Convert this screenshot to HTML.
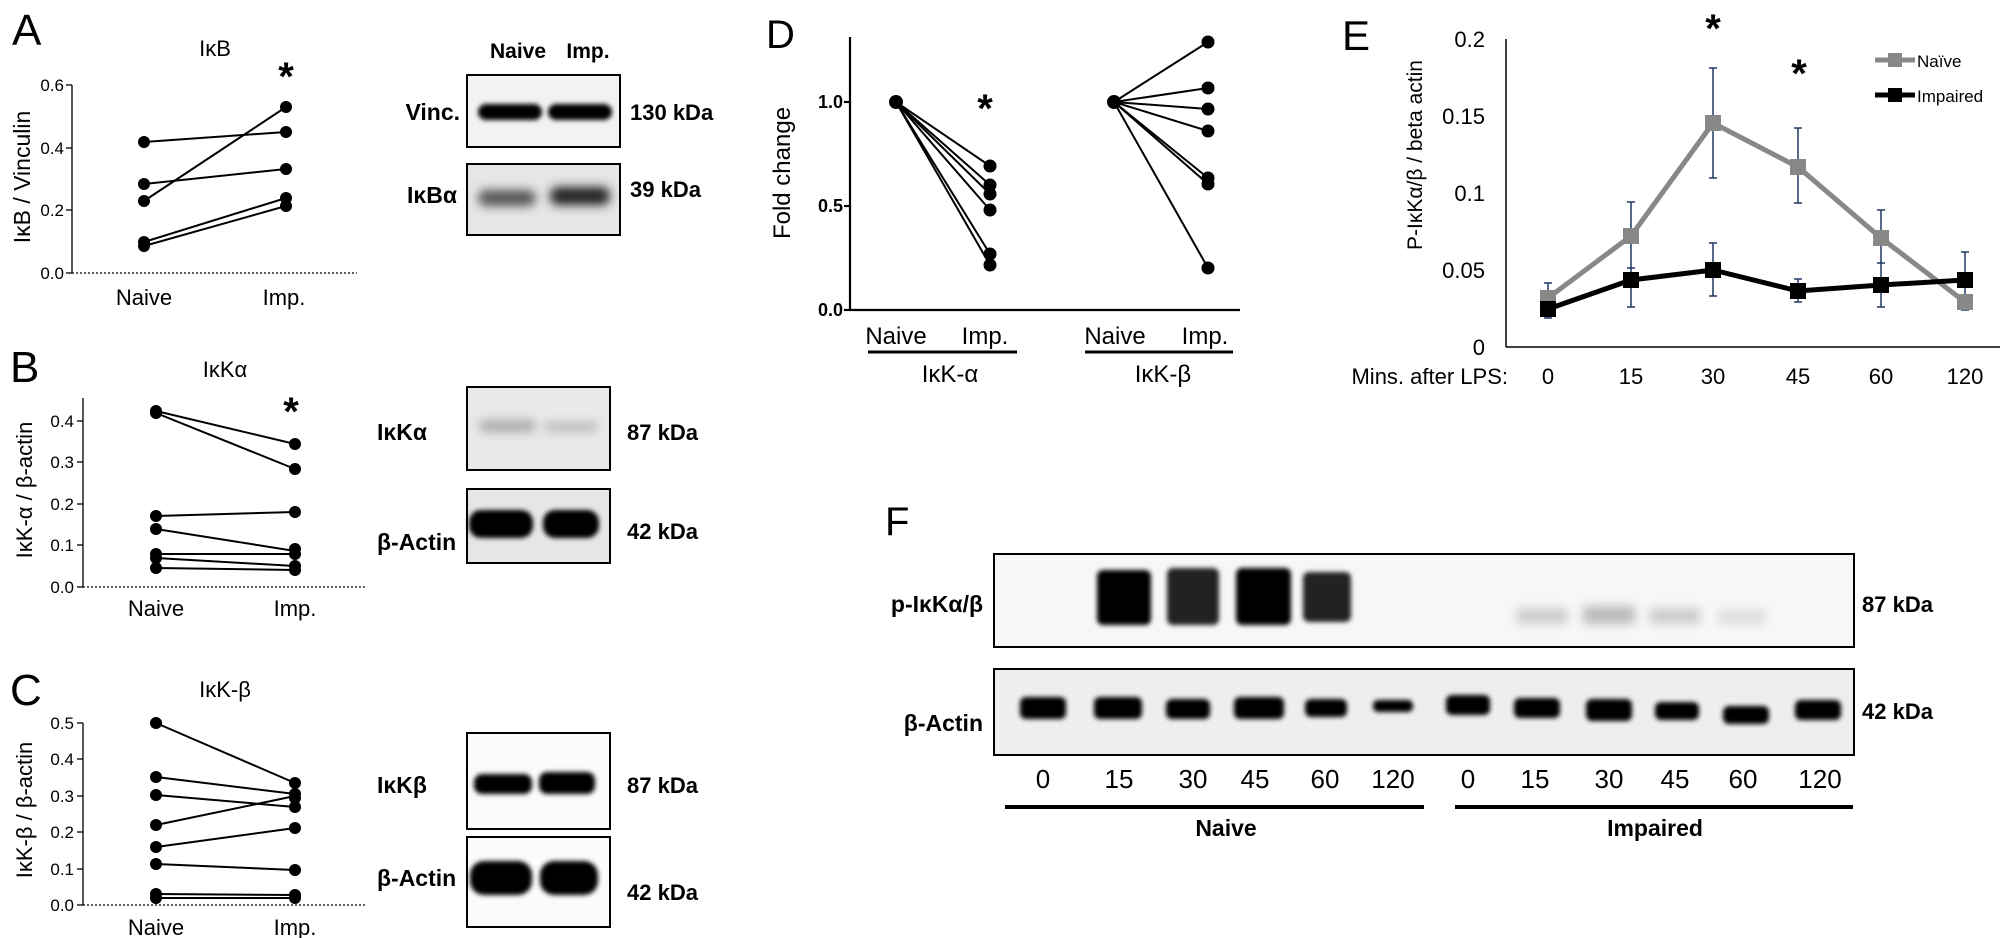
<!DOCTYPE html>
<html><head><meta charset="utf-8"><style>
html,body{margin:0;padding:0;background:#fff;}
svg{display:block;font-family:"Liberation Sans",sans-serif;}
</style></head><body>
<svg width="2006" height="938" viewBox="0 0 2006 938" xmlns="http://www.w3.org/2000/svg">
<defs>
<filter id="b2" x="-20%" y="-50%" width="140%" height="200%"><feGaussianBlur stdDeviation="2.5"/></filter>
<filter id="b4" x="-20%" y="-80%" width="140%" height="260%"><feGaussianBlur stdDeviation="5"/></filter>
</defs>
<rect width="2006" height="938" fill="#fff"/>

<!-- ============ A ============ -->
<text x="12" y="45" font-size="44">A</text>
<text x="215" y="56" font-size="22" text-anchor="middle">IκB</text>
<g stroke="#000" stroke-width="1.3" fill="none">
<line x1="72" y1="85" x2="72" y2="273"/>
<line x1="66" y1="85" x2="72" y2="85"/><line x1="66" y1="148" x2="72" y2="148"/><line x1="66" y1="210" x2="72" y2="210"/><line x1="66" y1="273" x2="72" y2="273"/>
<line x1="72" y1="273" x2="357" y2="273" stroke-dasharray="2,2"/>
</g>
<g font-size="17" text-anchor="end"><text x="64" y="91">0.6</text><text x="64" y="154">0.4</text><text x="64" y="216">0.2</text><text x="64" y="279">0.0</text></g>
<text transform="translate(30,177) rotate(-90)" font-size="23" text-anchor="middle">IκB / Vinculin</text>
<g stroke="#000" stroke-width="2">
<line x1="144" y1="142" x2="286" y2="132"/><line x1="144" y1="184" x2="286" y2="169"/><line x1="144" y1="201" x2="286" y2="107"/><line x1="144" y1="242" x2="286" y2="198"/><line x1="144" y1="246" x2="286" y2="206"/>
</g>
<g fill="#000"><circle cx="144" cy="142" r="6"/><circle cx="144" cy="184" r="6"/><circle cx="144" cy="201" r="6"/><circle cx="144" cy="242" r="6"/><circle cx="144" cy="246" r="6"/>
<circle cx="286" cy="107" r="6"/><circle cx="286" cy="132" r="6"/><circle cx="286" cy="169" r="6"/><circle cx="286" cy="198" r="6"/><circle cx="286" cy="206" r="6"/></g>
<text x="286" y="90" font-size="40" text-anchor="middle" font-weight="bold">*</text>
<text x="144" y="305" font-size="22" text-anchor="middle">Naive</text>
<text x="284" y="305" font-size="22" text-anchor="middle">Imp.</text>
<!-- blot A -->
<text x="518" y="58" font-size="21" font-weight="bold" text-anchor="middle">Naive</text>
<text x="588" y="58" font-size="21" font-weight="bold" text-anchor="middle">Imp.</text>
<rect x="467" y="75" width="153" height="72" fill="#f2f2f2" stroke="#000" stroke-width="2"/>
<rect x="467" y="164" width="153" height="71" fill="#e6e6e6" stroke="#000" stroke-width="2"/>
<g filter="url(#b2)" fill="#000"><rect x="478" y="104" width="64" height="16" rx="8"/><rect x="548" y="104" width="64" height="16" rx="8"/></g>
<g filter="url(#b4)"><rect x="478" y="190" width="58" height="16" rx="8" fill="#555"/><rect x="550" y="187" width="60" height="18" rx="8" fill="#222"/></g>
<text x="460" y="120" font-size="23" font-weight="bold" text-anchor="end">Vinc.</text>
<text x="457" y="203" font-size="23" font-weight="bold" text-anchor="end">IκBα</text>
<text x="630" y="120" font-size="22" font-weight="bold">130 kDa</text>
<text x="630" y="197" font-size="22" font-weight="bold">39 kDa</text>

<!-- ============ B ============ -->
<text x="10" y="382" font-size="44">B</text>
<text x="225" y="377" font-size="22" text-anchor="middle">IκKα</text>
<g stroke="#000" stroke-width="1.3" fill="none">
<line x1="83" y1="398" x2="83" y2="587"/>
<line x1="77" y1="421" x2="83" y2="421"/><line x1="77" y1="462" x2="83" y2="462"/><line x1="77" y1="504" x2="83" y2="504"/><line x1="77" y1="545" x2="83" y2="545"/><line x1="77" y1="587" x2="83" y2="587"/>
<line x1="83" y1="587" x2="365" y2="587" stroke-dasharray="2,2"/>
</g>
<g font-size="17" text-anchor="end"><text x="74" y="427">0.4</text><text x="74" y="468">0.3</text><text x="74" y="510">0.2</text><text x="74" y="551">0.1</text><text x="74" y="593">0.0</text></g>
<text transform="translate(32,490) rotate(-90)" font-size="22" text-anchor="middle">IκK-α / β-actin</text>
<g stroke="#000" stroke-width="2">
<line x1="156" y1="411" x2="295" y2="444"/><line x1="156" y1="413" x2="295" y2="469"/><line x1="156" y1="516" x2="295" y2="512"/><line x1="156" y1="529" x2="295" y2="551"/><line x1="156" y1="554" x2="295" y2="554"/><line x1="156" y1="558" x2="295" y2="566"/><line x1="156" y1="568" x2="295" y2="570"/>
</g>
<g fill="#000">
<circle cx="156" cy="411" r="6"/><circle cx="156" cy="413" r="6"/><circle cx="156" cy="516" r="6"/><circle cx="156" cy="529" r="6"/><circle cx="156" cy="554" r="6"/><circle cx="156" cy="558" r="6"/><circle cx="156" cy="568" r="6"/>
<circle cx="295" cy="444" r="6"/><circle cx="295" cy="469" r="6"/><circle cx="295" cy="512" r="6"/><circle cx="295" cy="549" r="6"/><circle cx="295" cy="554" r="6"/><circle cx="295" cy="566" r="6"/><circle cx="295" cy="570" r="6"/></g>
<text x="291" y="425" font-size="40" text-anchor="middle" font-weight="bold">*</text>
<text x="156" y="616" font-size="22" text-anchor="middle">Naive</text>
<text x="295" y="616" font-size="22" text-anchor="middle">Imp.</text>
<!-- blot B -->
<rect x="467" y="387" width="143" height="83" fill="#e9e9e9" stroke="#000" stroke-width="2"/>
<rect x="467" y="489" width="143" height="74" fill="#e6e6e6" stroke="#000" stroke-width="2"/>
<g filter="url(#b4)"><rect x="480" y="420" width="55" height="12" fill="#aaa"/><rect x="545" y="422" width="52" height="10" fill="#bbb"/></g>
<g filter="url(#b2)" fill="#000"><rect x="469" y="510" width="64" height="28" rx="12"/><rect x="543" y="510" width="56" height="28" rx="12"/></g>
<text x="377" y="440" font-size="23" font-weight="bold">IκKα</text>
<text x="377" y="550" font-size="23" font-weight="bold">β-Actin</text>
<text x="627" y="440" font-size="22" font-weight="bold">87 kDa</text>
<text x="627" y="539" font-size="22" font-weight="bold">42 kDa</text>

<!-- ============ C ============ -->
<text x="10" y="705" font-size="44">C</text>
<text x="225" y="697" font-size="22" text-anchor="middle">IκK-β</text>
<g stroke="#000" stroke-width="1.3" fill="none">
<line x1="83" y1="723" x2="83" y2="905"/>
<line x1="77" y1="723" x2="83" y2="723"/><line x1="77" y1="759" x2="83" y2="759"/><line x1="77" y1="796" x2="83" y2="796"/><line x1="77" y1="832" x2="83" y2="832"/><line x1="77" y1="869" x2="83" y2="869"/><line x1="77" y1="905" x2="83" y2="905"/>
<line x1="83" y1="905" x2="365" y2="905" stroke-dasharray="2,2"/>
</g>
<g font-size="17" text-anchor="end"><text x="74" y="729">0.5</text><text x="74" y="765">0.4</text><text x="74" y="802">0.3</text><text x="74" y="838">0.2</text><text x="74" y="875">0.1</text><text x="74" y="911">0.0</text></g>
<text transform="translate(32,810) rotate(-90)" font-size="22" text-anchor="middle">IκK-β / β-actin</text>
<g stroke="#000" stroke-width="2">
<line x1="156" y1="723" x2="295" y2="783"/><line x1="156" y1="777" x2="295" y2="794"/><line x1="156" y1="795" x2="295" y2="807"/><line x1="156" y1="825" x2="295" y2="796"/><line x1="156" y1="847" x2="295" y2="828"/><line x1="156" y1="864" x2="295" y2="870"/><line x1="156" y1="894" x2="295" y2="895"/><line x1="156" y1="898" x2="295" y2="898"/>
</g>
<g fill="#000">
<circle cx="156" cy="723" r="6"/><circle cx="156" cy="777" r="6"/><circle cx="156" cy="795" r="6"/><circle cx="156" cy="825" r="6"/><circle cx="156" cy="847" r="6"/><circle cx="156" cy="864" r="6"/><circle cx="156" cy="894" r="6"/><circle cx="156" cy="898" r="6"/>
<circle cx="295" cy="783" r="6"/><circle cx="295" cy="794" r="6"/><circle cx="295" cy="798" r="6"/><circle cx="295" cy="807" r="6"/><circle cx="295" cy="828" r="6"/><circle cx="295" cy="870" r="6"/><circle cx="295" cy="895" r="6"/><circle cx="295" cy="898" r="6"/></g>
<text x="156" y="935" font-size="22" text-anchor="middle">Naive</text>
<text x="295" y="935" font-size="22" text-anchor="middle">Imp.</text>
<!-- blot C -->
<rect x="467" y="733" width="143" height="96" fill="#fbfbfb" stroke="#000" stroke-width="2"/>
<rect x="467" y="837" width="143" height="90" fill="#fbfbfb" stroke="#000" stroke-width="2"/>
<g filter="url(#b2)" fill="#000"><rect x="474" y="774" width="58" height="20" rx="8"/><rect x="539" y="772" width="56" height="22" rx="8"/></g>
<g filter="url(#b2)" fill="#000"><rect x="470" y="861" width="62" height="34" rx="14"/><rect x="540" y="861" width="58" height="34" rx="14"/></g>
<text x="377" y="793" font-size="23" font-weight="bold">IκKβ</text>
<text x="377" y="886" font-size="23" font-weight="bold">β-Actin</text>
<text x="627" y="793" font-size="22" font-weight="bold">87 kDa</text>
<text x="627" y="900" font-size="22" font-weight="bold">42 kDa</text>

<!-- ============ D ============ -->
<text x="766" y="48" font-size="40">D</text>
<g stroke="#000" stroke-width="2.2" fill="none">
<line x1="850" y1="37" x2="850" y2="310"/><line x1="850" y1="310" x2="1240" y2="310"/>
<line x1="844" y1="102" x2="850" y2="102"/><line x1="844" y1="206" x2="850" y2="206"/><line x1="844" y1="310" x2="850" y2="310"/>
</g>
<g font-size="18" font-weight="bold" text-anchor="end"><text x="843" y="108">1.0</text><text x="843" y="212">0.5</text><text x="843" y="316">0.0</text></g>
<text transform="translate(790,173) rotate(-90)" font-size="24" text-anchor="middle">Fold change</text>
<g stroke="#000" stroke-width="2">
<line x1="896" y1="102" x2="990" y2="166"/><line x1="896" y1="102" x2="990" y2="185"/><line x1="896" y1="102" x2="990" y2="194"/><line x1="896" y1="102" x2="990" y2="210"/><line x1="896" y1="102" x2="990" y2="254"/><line x1="896" y1="102" x2="990" y2="265"/>
<line x1="1114" y1="102" x2="1208" y2="42"/><line x1="1114" y1="102" x2="1208" y2="88"/><line x1="1114" y1="102" x2="1208" y2="109"/><line x1="1114" y1="102" x2="1208" y2="131"/><line x1="1114" y1="102" x2="1208" y2="178"/><line x1="1114" y1="102" x2="1208" y2="184"/><line x1="1114" y1="102" x2="1208" y2="268"/>
</g>
<g fill="#000"><circle cx="896" cy="102" r="7"/><circle cx="1114" cy="102" r="7"/>
<circle cx="990" cy="166" r="6.5"/><circle cx="990" cy="185" r="6.5"/><circle cx="990" cy="194" r="6.5"/><circle cx="990" cy="210" r="6.5"/><circle cx="990" cy="254" r="6.5"/><circle cx="990" cy="265" r="6.5"/>
<circle cx="1208" cy="42" r="6.5"/><circle cx="1208" cy="88" r="6.5"/><circle cx="1208" cy="109" r="6.5"/><circle cx="1208" cy="131" r="6.5"/><circle cx="1208" cy="178" r="6.5"/><circle cx="1208" cy="184" r="6.5"/><circle cx="1208" cy="268" r="6.5"/></g>
<text x="985" y="122" font-size="40" text-anchor="middle" font-weight="bold">*</text>
<g font-size="24" text-anchor="middle">
<text x="896" y="344">Naive</text><text x="985" y="344">Imp.</text>
<text x="1115" y="344">Naive</text><text x="1205" y="344">Imp.</text>
<text x="950" y="382">IκK-α</text><text x="1163" y="382">IκK-β</text></g>
<g stroke="#000" stroke-width="3"><line x1="868" y1="352" x2="1017" y2="352"/><line x1="1085" y1="352" x2="1233" y2="352"/></g>

<!-- ============ E ============ -->
<text x="1342" y="50" font-size="42">E</text>
<g stroke="#000" stroke-width="1.5" fill="none">
<line x1="1506" y1="39" x2="1506" y2="347"/><line x1="1506" y1="347" x2="2000" y2="347"/>
</g>
<g font-size="22" text-anchor="end"><text x="1485" y="47">0.2</text><text x="1485" y="124">0.15</text><text x="1485" y="201">0.1</text><text x="1485" y="278">0.05</text><text x="1485" y="355">0</text></g>
<text transform="translate(1422,155) rotate(-90)" font-size="21" text-anchor="middle">P-IκKα/β / beta actin</text>
<text x="1508" y="384" font-size="22" text-anchor="end">Mins. after LPS:</text>
<g font-size="22" text-anchor="middle"><text x="1548" y="384">0</text><text x="1631" y="384">15</text><text x="1713" y="384">30</text><text x="1798" y="384">45</text><text x="1881" y="384">60</text><text x="1965" y="384">120</text></g>
<g stroke="#1f3864" stroke-width="1.5" fill="none">
<path d="M1548 283V301M1544 283H1552"/>
<path d="M1631 202V268M1627 202H1635M1627 268H1635"/>
<path d="M1713 68V178M1709 68H1717M1709 178H1717"/>
<path d="M1798 128V203M1794 128H1802M1794 203H1802"/>
<path d="M1881 210V263M1877 210H1885M1877 263H1885"/>
<path d="M1965 302V310M1961 310H1969"/>
<path d="M1631 268V307M1627 307H1635"/>
<path d="M1713 243V296M1709 243H1717M1709 296H1717"/>
<path d="M1798 279V302M1794 279H1802M1794 302H1802"/>
<path d="M1881 263V307M1877 307H1885"/>
<path d="M1965 252V308M1961 252H1969"/>
<path d="M1548 308V318M1544 318H1552"/>
</g>
<polyline points="1548,298 1631,236 1713,123 1798,167 1881,238 1965,302" fill="none" stroke="#888" stroke-width="5"/>
<g fill="#888"><rect x="1540" y="290" width="16" height="16"/><rect x="1623" y="228" width="16" height="16"/><rect x="1705" y="115" width="16" height="16"/><rect x="1790" y="159" width="16" height="16"/><rect x="1873" y="230" width="16" height="16"/><rect x="1957" y="294" width="16" height="16"/></g>
<polyline points="1548,309 1631,280 1713,270 1798,291 1881,285 1965,280" fill="none" stroke="#000" stroke-width="5"/>
<g fill="#000"><rect x="1540" y="301" width="16" height="16"/><rect x="1623" y="272" width="16" height="16"/><rect x="1705" y="262" width="16" height="16"/><rect x="1790" y="283" width="16" height="16"/><rect x="1873" y="277" width="16" height="16"/><rect x="1957" y="272" width="16" height="16"/></g>
<text x="1713" y="42" font-size="40" text-anchor="middle" font-weight="bold">*</text>
<text x="1799" y="87" font-size="40" text-anchor="middle" font-weight="bold">*</text>
<line x1="1875" y1="60" x2="1915" y2="60" stroke="#888" stroke-width="5"/><rect x="1888" y="53" width="14" height="14" fill="#888"/>
<line x1="1875" y1="95" x2="1915" y2="95" stroke="#000" stroke-width="5"/><rect x="1888" y="88" width="14" height="14" fill="#000"/>
<text x="1917" y="67" font-size="17">Naïve</text>
<text x="1917" y="102" font-size="17">Impaired</text>

<!-- ============ F ============ -->
<text x="885" y="535" font-size="40">F</text>
<rect x="994" y="554" width="860" height="93" fill="#f7f7f7" stroke="#000" stroke-width="2"/>
<rect x="994" y="669" width="860" height="86" fill="#eeeeee" stroke="#000" stroke-width="2"/>
<g filter="url(#b2)" fill="#000">
<rect x="1097" y="570" width="54" height="55" rx="6"/><rect x="1167" y="568" width="52" height="57" rx="6" fill="#222"/><rect x="1236" y="568" width="55" height="57" rx="6"/><rect x="1303" y="572" width="48" height="50" rx="6" fill="#222"/>
</g>
<g filter="url(#b4)" fill="#ccc"><rect x="1517" y="608" width="50" height="16"/><rect x="1583" y="606" width="52" height="18" fill="#bbb"/><rect x="1650" y="608" width="50" height="16"/><rect x="1718" y="610" width="48" height="14" fill="#ddd"/></g>
<g filter="url(#b2)" fill="#000">
<rect x="1020" y="697" width="46" height="22" rx="6"/><rect x="1094" y="697" width="48" height="22" rx="6"/><rect x="1166" y="699" width="44" height="20" rx="6"/><rect x="1234" y="697" width="50" height="22" rx="6"/><rect x="1305" y="699" width="42" height="18" rx="6"/><rect x="1373" y="700" width="40" height="12" rx="5"/>
<rect x="1446" y="695" width="44" height="20" rx="6"/><rect x="1514" y="698" width="46" height="20" rx="6"/><rect x="1586" y="699" width="46" height="22" rx="6"/><rect x="1655" y="702" width="44" height="18" rx="6"/><rect x="1723" y="706" width="46" height="18" rx="6"/><rect x="1795" y="700" width="46" height="20" rx="6"/>
</g>
<text x="983" y="612" font-size="23" font-weight="bold" text-anchor="end">p-IκKα/β</text>
<text x="983" y="731" font-size="23" font-weight="bold" text-anchor="end">β-Actin</text>
<text x="1862" y="612" font-size="22" font-weight="bold">87 kDa</text>
<text x="1862" y="719" font-size="22" font-weight="bold">42 kDa</text>
<g font-size="26" text-anchor="middle">
<text x="1043" y="788">0</text><text x="1119" y="788">15</text><text x="1193" y="788">30</text><text x="1255" y="788">45</text><text x="1325" y="788">60</text><text x="1393" y="788">120</text>
<text x="1468" y="788">0</text><text x="1535" y="788">15</text><text x="1609" y="788">30</text><text x="1675" y="788">45</text><text x="1743" y="788">60</text><text x="1820" y="788">120</text></g>
<g stroke="#000" stroke-width="4"><line x1="1005" y1="807" x2="1424" y2="807"/><line x1="1455" y1="807" x2="1853" y2="807"/></g>
<text x="1226" y="836" font-size="23" font-weight="bold" text-anchor="middle">Naive</text>
<text x="1655" y="836" font-size="23" font-weight="bold" text-anchor="middle">Impaired</text>
</svg>
</body></html>
